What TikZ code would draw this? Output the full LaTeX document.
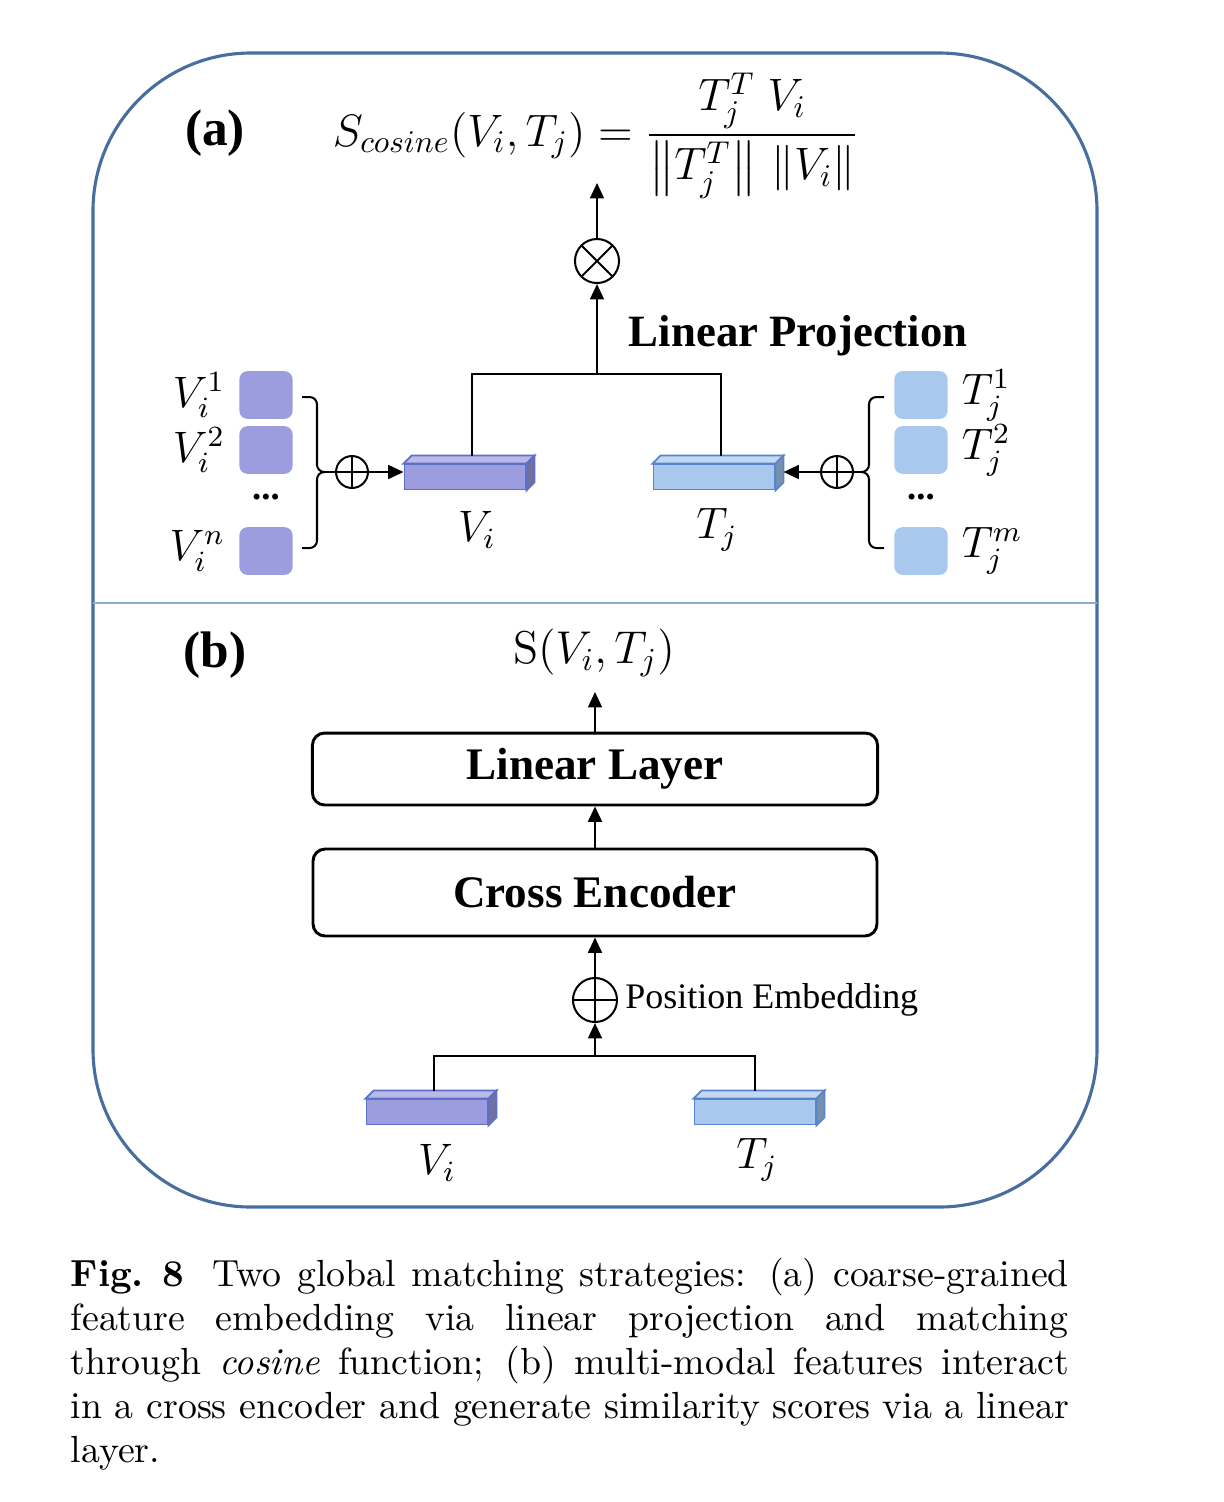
\documentclass[tikz,border=0pt]{standalone}
\usepackage{amsmath}
\usepackage{fontspec}
\newfontfamily\tnr{Liberation Serif}
\usetikzlibrary{arrows.meta, positioning, calc}

\definecolor{frameblue}{RGB}{71,110,158}
\definecolor{divblue}{RGB}{140,172,208}
\definecolor{vpurple}{RGB}{155,157,222}
\definecolor{vedge}{RGB}{92,112,200}
\definecolor{tblue}{RGB}{168,200,238}
\definecolor{tedge}{RGB}{88,132,205}

\tikzset{
  line/.style={line width=0.55pt},
  arr/.style={line width=0.55pt, -{Triangle[length=4.2pt,width=3.8pt]}},
  feat/.style={rounded corners=2.2pt, minimum width=14.5pt, minimum height=13pt, inner sep=0pt},
  vfeat/.style={feat, fill=vpurple},
  tfeat/.style={feat, fill=tblue},
  toklabel/.style={font=\large, inner sep=1pt},
  barface/.style={minimum width=33pt, minimum height=6.8pt, inner sep=0pt, line width=0.5pt},
  blockbox/.style={draw, line width=0.8pt, rounded corners=3.3pt, font=\tnr\bfseries\fontsize{12.3}{15}\selectfont},
  oplusnode/.style={circle, draw, line width=0.55pt, inner sep=0pt,
    path picture={\draw[line width=0.55pt] (path picture bounding box.north) -- (path picture bounding box.south)
      (path picture bounding box.west) -- (path picture bounding box.east);}},
  otimesnode/.style={circle, draw, line width=0.55pt, inner sep=0pt, minimum size=12pt,
    path picture={\draw[line width=0.55pt] (path picture bounding box.north west) -- (path picture bounding box.south east)
      (path picture bounding box.north east) -- (path picture bounding box.south west);}},
  panel/.style={font=\tnr\bfseries\fontsize{14}{16}\selectfont}
}

% top and side faces of a feature bar
\newcommand{\barsides}[3]{%
  \draw[draw=#3, line width=0.5pt, fill=#2!70!white] (#1.north west) -- ++(2.2pt,2.2pt)
    -- ([shift={(2.2pt,2.2pt)}]#1.north east) -- (#1.north east) -- cycle;
  \draw[draw=#3, line width=0.5pt, fill=#2!72!black] (#1.north east) -- ++(2.2pt,2.2pt)
    -- ([shift={(2.2pt,2.2pt)}]#1.south east) -- (#1.south east) -- cycle;}

\begin{document}
\begin{tikzpicture}[x=0.2725pt, y=-0.2725pt]
\useasboundingbox (0,0) rectangle (1224,1502);

% frame
\draw[frameblue, line width=0.85pt, rounded corners=43pt] (93,53) rectangle (1097,1207);
\draw[divblue, line width=0.4pt] (93,603) -- (1097,603);

% (a) coarse-grained matching
\node[panel] (alabel) at (215,133) {(a)};
\node[font=\Large, scale=0.86, anchor=base] (cosform) at (596,146)
  {$S_{cosine}(V_i,T_j)=\dfrac{T_j^T\;V_i}{\left\|T_j^T\right\|\,\left\|V_i\right\|}$};
\coordinate (scoretip) at (597,183);
\node[otimesnode] (mult) at (597,261) {};
\draw[arr] (mult) -- (scoretip);
\coordinate (projjoin) at (597,374);
\draw[arr] (projjoin) -- (mult);
\node[anchor=west, font=\tnr\bfseries\fontsize{12.2}{15}\selectfont] (projlabel) at (616,336) {Linear Projection};

\node[barface, fill=vpurple, draw=vedge] (vbar) at (465,477) {};
\barsides{vbar}{vpurple}{vedge}
\node[barface, fill=tblue, draw=tedge] (tbar) at (714,477) {};
\barsides{tbar}{tblue}{tedge}
\draw[line] ([xshift=2pt,yshift=2.2pt]vbar.north) |- (projjoin) -| ([xshift=2pt,yshift=2.2pt]tbar.north);
\node[font=\large] (vilabel) at (477,530) {$V_i$};
\node[font=\large] (tjlabel) at (717,530) {$T_j$};

% visual tokens
\node[vfeat] (vsq1) at (266,395) {};
\node[vfeat] (vsq2) at (266,450) {};
\node[vfeat] (vsqn) at (266,551) {};
\node[toklabel, left=2.5pt of vsq1] (vlab1) {$V_i^1$};
\node[toklabel, left=2.5pt of vsq2] (vlab2) {$V_i^2$};
\node[toklabel, left=2.5pt of vsqn] (vlabn) {$V_i^n$};
\node[font=\tnr\bfseries] (vdots) at (266,497) {...};
\draw[line, rounded corners=2pt] (302,397) -- (317,397) -- (317,472) -- (324,472);
\draw[line, rounded corners=2pt] (302,548) -- (317,548) -- (317,472) -- (324,472);
\coordinate (vbrace) at (324,472);
\node[oplusnode, minimum size=8.7pt] (vplus) at (352,472) {};
\draw[line] (vbrace) -- (vplus);
\draw[arr] (vplus) -- (vplus -| vbar.west);

% text tokens
\node[tfeat] (tsq1) at (921,395) {};
\node[tfeat] (tsq2) at (921,450) {};
\node[tfeat] (tsqm) at (921,551) {};
\node[toklabel, right=2.5pt of tsq1] (tlab1) {$T_j^1$};
\node[toklabel, right=2.5pt of tsq2] (tlab2) {$T_j^2$};
\node[toklabel, right=2.5pt of tsqm] (tlabm) {$T_j^m$};
\node[font=\tnr\bfseries] (tdots) at (921,497) {...};
\draw[line, rounded corners=2pt] (884,397) -- (869,397) -- (869,472) -- (862,472);
\draw[line, rounded corners=2pt] (884,548) -- (869,548) -- (869,472) -- (862,472);
\coordinate (tbrace) at (862,472);
\node[oplusnode, minimum size=8.7pt] (tplus) at (837,472) {};
\draw[line] (tbrace) -- (tplus);
\coordinate (tbarside) at ([xshift=2.2pt]tbar.east);
\draw[arr] (tplus) -- (tplus -| tbarside);

% (b) cross encoder matching
\node[panel] (blabel) at (215,655) {(b)};
\node[font=\Large, scale=0.87] (simscore) at (594,653) {$\mathrm{S}(V_i,T_j)$};
\coordinate (simtip) at (595,692);
\node[blockbox, minimum width=154pt, minimum height=19.6pt] (linlayer) at (595,769) {Linear Layer};
\node[blockbox, minimum width=153.7pt, minimum height=23.7pt] (crossenc) at (595,892.5) {Cross Encoder};
\draw[arr] (linlayer) -- (simtip);
\draw[arr] (crossenc) -- (linlayer);
\node[oplusnode, minimum size=12pt] (posplus) at (595,1000) {};
\node[right=-1.5pt of posplus, font=\tnr\fontsize{9.8}{12}\selectfont] (poslabel) {Position Embedding};
\draw[arr] (posplus) -- (crossenc);
\coordinate (fusejoin) at (595,1056);
\draw[arr] (fusejoin) -- (posplus);

\node[barface, fill=vpurple, draw=vedge] (vbarb) at (427,1112) {};
\barsides{vbarb}{vpurple}{vedge}
\node[barface, fill=tblue, draw=tedge] (tbarb) at (755,1112) {};
\barsides{tbarb}{tblue}{tedge}
\draw[line] ([xshift=2pt,yshift=2.2pt]vbarb.north) |- (fusejoin) -| ([yshift=2.2pt]tbarb.north);
\node[font=\large] (vilabelb) at (437,1163) {$V_i$};
\node[font=\large] (tjlabelb) at (757,1160) {$T_j$};

% caption
\node[anchor=north west, text width=272pt, align=justify, inner sep=0pt,
      font=\fontsize{10.3}{12}\selectfont] (caption) at (70,1257)
  {\textbf{Fig.~8}\hspace{0.75em}Two global matching strategies: (a) coarse-grained\linebreak
   feature embedding via linear projection and matching\linebreak
   through \emph{cosine} function; (b) multi-modal features interact\linebreak
   in a cross encoder and generate similarity scores via a linear\linebreak
   layer.};
\end{tikzpicture}
\end{document}
